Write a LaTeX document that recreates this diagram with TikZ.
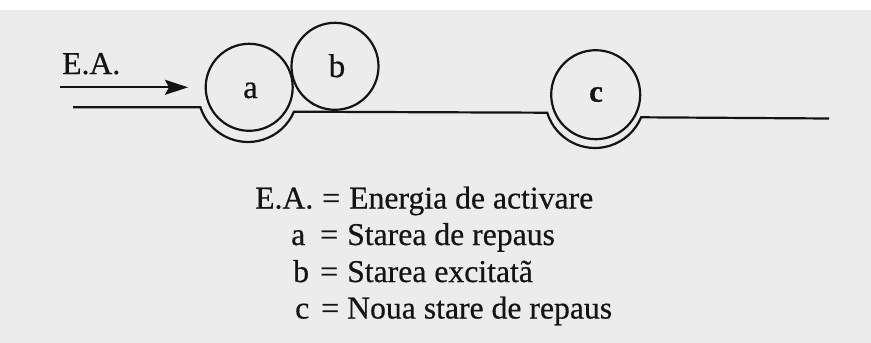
\documentclass[tikz,border=0pt]{standalone}
\usepackage{fontspec}
\setmainfont{Liberation Serif}[FakeBold=0.5]
\usetikzlibrary{arrows.meta}
\definecolor{bg}{RGB}{236,236,236}
\definecolor{ink}{RGB}{20,20,20}
\begin{document}
\begin{tikzpicture}[x=1pt,y=1pt,
  ln/.style={line width=2.2pt,draw=ink},
  ball/.style={circle,draw=ink,line width=2.2pt,inner sep=0pt,outer sep=0pt},
  lbl/.style={inner sep=0pt,anchor=base,text=ink,font=\fontsize{33}{36}\selectfont},
  leg/.style={inner sep=0pt,anchor=base west,text=ink,font=\fontsize{31.7}{36}\selectfont}]
\fill[white] (0,0) rectangle (871,-343);
\fill[bg] (0,-10) rectangle (871,-343);
\useasboundingbox (0,0) rectangle (871,-343);

% balls
\node[ball,minimum size=87pt] (a) at (249.2,-87.3) {};
\node[ball,minimum size=87pt] (b) at (335,-66.3) {};
\node[ball,minimum size=89pt] (c) at (595.7,-94.7) {};
\node[lbl] (la) at (250.5,-98) {a};
\node[lbl] (lb) at (337,-77) {b};
\node[lbl,font=\fontsize{31}{34}\selectfont\bfseries] (lc) at (596,-101.7) {c};

% ground line with hollows
\coordinate (s0) at (73,-107.3);
\coordinate (ca) at (248,-92);
\coordinate (cc) at (595,-98);
\coordinate (e0) at (829,-118.5);
\draw[ln] (s0) -- ([shift={(197.8:50pt)}]ca)
  arc[start angle=197.8,end angle=336.8,radius=50pt]
  -- ([shift={(197.1:50pt)}]cc)
  arc[start angle=197.1,end angle=337.3,radius=50pt]
  -- (e0);

% activation energy arrow
\coordinate (ar0) at (60,-87.3);
\coordinate (ar1) at (188,-87.3);
\draw[ln,-{Stealth[length=23pt,width=15pt,inset=4pt]}] (ar0) -- (ar1);
\node[leg] (ea) at (62,-74) {E.A.};

% legend
\node[leg] (k1) at (255,-208.5) {E.A.};
\node[leg] (q1) at (322,-208.5) {=};
\node[leg] (t1) at (349,-208.5) {Energia de activare};
\node[leg] (k2) at (291,-245) {a};
\node[leg] (q2) at (320,-245) {=};
\node[leg] (t2) at (347,-245) {Starea de repaus};
\node[leg] (k3) at (293,-282) {b};
\node[leg] (q3) at (320,-282) {=};
\node[leg] (t3) at (347,-282) {Starea excitatã};
\node[leg] (k4) at (295,-318.5) {c};
\node[leg] (q4) at (321,-318.5) {=};
\node[leg] (t4) at (347,-318.5) {Noua stare de repaus};
\end{tikzpicture}
\end{document}
